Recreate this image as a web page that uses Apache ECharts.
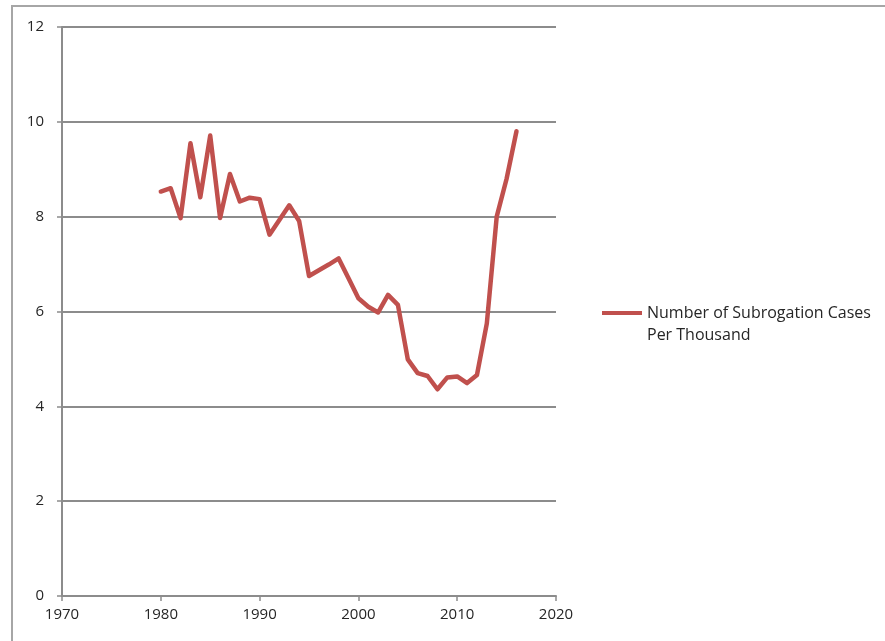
<!DOCTYPE html>
<html>
<head>
<meta charset="utf-8">
<script src="https://cdn.jsdelivr.net/npm/echarts@6/dist/echarts.min.js"></script>
<style>
  html, body { margin: 0; padding: 0; background: #fff; }
  #chart { width: 885px; height: 641px; }
</style>
</head>
<body>
<div id="chart"></div>
<script>
// Subrogation cases per thousand, by year
const years = [1980, 1981, 1982, 1983, 1984, 1985, 1986, 1987, 1988, 1989,
               1990, 1991, 1992, 1993, 1994, 1995, 1996, 1997, 1998, 1999,
               2000, 2001, 2002, 2003, 2004, 2005, 2006, 2007, 2008, 2009,
               2010, 2011, 2012, 2013, 2014, 2015, 2016];
const casesPerThousand = [8.53, 8.60, 7.97, 9.55, 8.41, 9.71, 7.97, 8.90, 8.32, 8.40,
                          8.37, 7.62, 7.93, 8.24, 7.91, 6.75, 6.87, 6.99, 7.12, 6.70,
                          6.28, 6.10, 5.98, 6.35, 6.14, 4.99, 4.70, 4.64, 4.36, 4.61,
                          4.63, 4.49, 4.66, 5.75, 8.00, 8.80, 9.80];
const seriesName = 'Number of Subrogation Cases Per Thousand';
const legendLines = ['Number of Subrogation Cases', 'Per Thousand'];
const xRange = [1970, 2020];
const yRange = [0, 12];

const points = years.map((y, i) => [y, casesPerThousand[i]]);

const labelFont = '"Open Sans", "Liberation Sans", sans-serif';
const chart = echarts.init(document.getElementById('chart'));
chart.setOption({
  animation: false,
  backgroundColor: '#ffffff',
  graphic: [{
    type: 'rect',
    shape: { x: 12, y: 6, width: 900, height: 660 },
    style: { fill: 'none', stroke: '#a6a6a6', lineWidth: 2 },
    silent: true
  }],
  grid: { left: 62, top: 27, right: 329, bottom: 45, containLabel: false },
  xAxis: {
    type: 'value',
    min: xRange[0], max: xRange[1], interval: 10,
    axisLine: { show: true, lineStyle: { color: '#8c8c8c', width: 2 } },
    axisTick: { show: true, length: 5, lineStyle: { color: '#8c8c8c', width: 1.5 } },
    axisLabel: { color: '#262626', fontSize: 15, fontFamily: labelFont, margin: 11,
                 formatter: v => String(v) },
    splitLine: { show: false }
  },
  yAxis: {
    type: 'value',
    min: yRange[0], max: yRange[1], interval: 2,
    axisLine: { show: true, lineStyle: { color: '#8c8c8c', width: 2 } },
    axisTick: { show: true, length: 5, lineStyle: { color: '#8c8c8c', width: 1.5 } },
    axisLabel: { color: '#262626', fontSize: 15, fontFamily: labelFont, margin: 18 },
    splitLine: { show: true, lineStyle: { color: '#8c8c8c', width: 2 } }
  },
  legend: {
    left: 602, top: 280,
    padding: 0,
    orient: 'vertical',
    itemWidth: 40, itemHeight: 4, itemGap: 0,
    icon: 'rect',
    // a blank first line keeps the swatch level with the first text line
    formatter: () => ' \n' + legendLines.join('\n'),
    textStyle: { color: '#262626', fontSize: 16, fontFamily: labelFont, lineHeight: 22 },
    data: [{ name: seriesName, itemStyle: { color: '#c0504d' } }]
  },
  series: [{
    name: seriesName,
    type: 'line',
    data: points,
    symbol: 'none',
    lineStyle: { color: '#c0504d', width: 4.5, join: 'round', cap: 'round' },
    itemStyle: { color: '#c0504d' }
  }]
});
</script>
</body>
</html>
